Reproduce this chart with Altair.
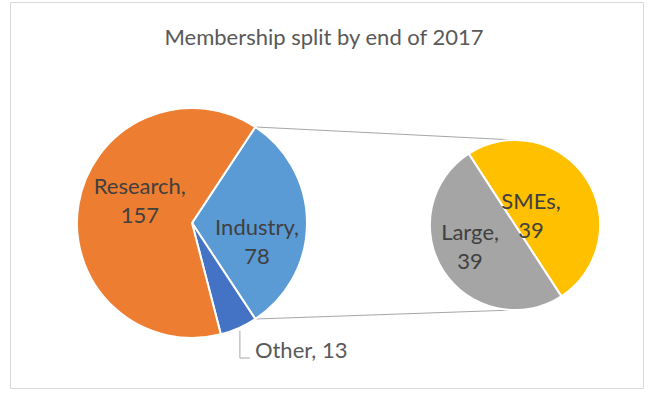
import math

import altair as alt
import pandas as pd

# ---- data -------------------------------------------------------------
TITLE = "Membership split by end of 2017"

main_cats = ["Industry", "Other", "Research"]
main_vals = [78, 13, 157]

sec_cats = ["SMEs", "Large"]
sec_vals = [39, 39]

# ---- styling / layout -------------------------------------------------
main_colors = ["#5B9BD5", "#4472C4", "#ED7D31"]
sec_colors = ["#FFC000", "#A5A5A5"]

W, H = 648, 394
FONT = "Lato"
LABEL_SIZE = 22
LINE_H = 29
MAIN_C, MAIN_R = (192, 223), 115
SEC_C, SEC_R = (515, 225), 85

# the split-off slice (Industry) is centred on 3 o'clock
MAIN_START = math.pi / 2 - math.pi * main_vals[0] / sum(main_vals)
SEC_START = math.radians(327)

# label placement: radius from the pie centre plus a small nudge
LABEL_R = {"Research": 60, "Industry": 60, "SMEs": 25, "Large": 50}
LABEL_NUDGE = {"Research": (7, -12), "Industry": (5, 19),
               "SMEs": (-5, 5), "Large": (-3, -5)}


def slice_angles(vals, start):
    total = float(sum(vals))
    out, cum = [], 0.0
    for v in vals:
        a0 = start + 2 * math.pi * cum / total
        cum += v
        a1 = start + 2 * math.pi * cum / total
        out.append((a0, a1, (a0 + a1) / 2))
    return out


def polar(c, r, a):
    return c[0] + r * math.sin(a), c[1] - r * math.cos(a)


main_ang = slice_angles(main_vals, MAIN_START)
sec_ang = slice_angles(sec_vals, SEC_START)

all_cats = main_cats + sec_cats
all_colors = main_colors + sec_colors
color_scale = alt.Scale(domain=all_cats, range=all_colors)

xs = alt.Scale(domain=[0, W], range=[0, W], nice=False, zero=False)
ys = alt.Scale(domain=[0, H], range=[0, H], nice=False, zero=False)


def pie(cats, vals, start, centre, radius):
    df = pd.DataFrame({"cat": cats, "value": vals, "order": list(range(len(cats)))})
    return alt.Chart(df).mark_arc(radius=radius, stroke="white", strokeWidth=2).encode(
        theta=alt.Theta("value:Q", stack=True,
                        scale=alt.Scale(range=[start, start + 2 * math.pi])),
        order=alt.Order("order:Q"),
        color=alt.Color("cat:N", scale=color_scale, legend=None),
        x=alt.value(centre[0]),
        y=alt.value(centre[1]),
    )


main_pie = pie(main_cats, main_vals, MAIN_START, MAIN_C, MAIN_R)
sec_pie = pie(sec_cats, sec_vals, SEC_START, SEC_C, SEC_R)

# ---- inside labels (two lines: name, value) ------------------------------
rows = []
for cats, vals, angs, c in ((main_cats, main_vals, main_ang, MAIN_C),
                            (sec_cats, sec_vals, sec_ang, SEC_C)):
    for cat, v, (_, _, mid) in zip(cats, vals, angs):
        if cat not in LABEL_R:
            continue
        px, py = polar(c, LABEL_R[cat], mid)
        dx, dy = LABEL_NUDGE[cat]
        # y is the first line's centre, so lift by half a line
        rows.append({"x": px + dx, "y": py + dy - LINE_H / 2,
                     "label": f"{cat},\n{v}"})
inside_df = pd.DataFrame(rows)

inside_labels = alt.Chart(inside_df).mark_text(
    font=FONT, fontSize=LABEL_SIZE, color="#404040", lineBreak="\n",
    lineHeight=LINE_H, align="center", baseline="middle",
).encode(
    x=alt.X("x:Q", scale=xs, axis=None),
    y=alt.Y("y:Q", scale=ys, axis=None),
    text="label:N",
)

# ---- "Other" label with its leader line ---------------------------------
oi = main_cats.index("Other")
ox, oy = polar(MAIN_C, MAIN_R + 3, main_ang[oi][2])
leader_df = pd.DataFrame({
    "x": [ox, ox, ox + 10],
    "y": [oy, 358, 358],
    "i": [0, 1, 2],
})
leader = alt.Chart(leader_df).mark_line(color="#a6a6a6", strokeWidth=1).encode(
    x=alt.X("x:Q", scale=xs, axis=None),
    y=alt.Y("y:Q", scale=ys, axis=None),
    order="i:Q",
)
other_df = pd.DataFrame({"x": [ox + 15], "y": [351],
                         "label": [f"Other, {main_vals[oi]}"]})
other_label = alt.Chart(other_df).mark_text(
    font=FONT, fontSize=LABEL_SIZE, color="#595959", align="left", baseline="middle",
).encode(
    x=alt.X("x:Q", scale=xs, axis=None),
    y=alt.Y("y:Q", scale=ys, axis=None),
    text="label:N",
)

# ---- connector lines between the two pies -------------------------------
ii = main_cats.index("Industry")
t0 = polar(MAIN_C, MAIN_R, main_ang[ii][0])
t1 = polar(MAIN_C, MAIN_R, main_ang[ii][1])
conn_df = pd.DataFrame({
    "x": [t0[0], t1[0]],
    "y": [t0[1], t1[1]],
    "x2": [SEC_C[0], SEC_C[0]],
    "y2": [SEC_C[1] - SEC_R, SEC_C[1] + SEC_R],
})
connectors = alt.Chart(conn_df).mark_rule(color="#a6a6a6", strokeWidth=1).encode(
    x=alt.X("x:Q", scale=xs, axis=None),
    y=alt.Y("y:Q", scale=ys, axis=None),
    x2="x2:Q",
    y2="y2:Q",
)

# ---- title and chart frame -----------------------------------------------
title = alt.Chart(pd.DataFrame({"t": [TITLE]})).mark_text(
    font=FONT, fontSize=22, color="#595959", align="center", baseline="middle",
).encode(x=alt.value(W / 2), y=alt.value(38), text="t:N")

frame = alt.Chart(pd.DataFrame({"k": [0]})).mark_rect(
    fillOpacity=0, stroke="#d9d9d9", strokeWidth=1,
).encode(x=alt.value(10.5), x2=alt.value(643.5), y=alt.value(2.5), y2=alt.value(388.5))

chart = alt.layer(
    frame, connectors, main_pie, sec_pie, leader, inside_labels, other_label, title,
).resolve_scale(theta="independent").properties(
    width=W, height=H, autosize=alt.AutoSizeParams(type="none"), padding=0,
    background="white",
).configure_view(strokeWidth=0)

chart.save("out.html", embed_options={"renderer": "svg", "actions": False})
